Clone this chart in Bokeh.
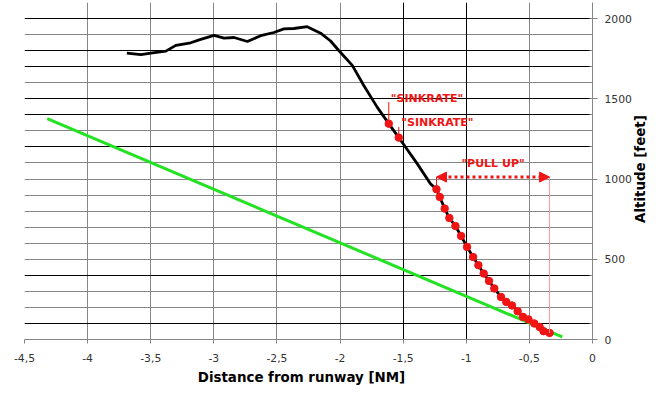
import math
from bokeh.plotting import figure
from bokeh.models import (FixedTicker, Grid, Label, Arrow, NormalHead, Range1d)
from bokeh.embed import file_html
from bokeh.resources import INLINE

# ---------------- data ----------------
dist_ticks = [-4.5, -4.0, -3.5, -3.0, -2.5, -2.0, -1.5, -1.0, -0.5, 0.0]
dist_tick_labels = ["-4,5", "-4", "-3,5", "-3", "-2,5", "-2", "-1,5", "-1", "-0,5", "0"]
alt_ticks = [0, 500, 1000, 1500, 2000]
alt_minor = [100, 200, 300, 400, 600, 700, 800, 900, 1100, 1200, 1300, 1400,
             1600, 1700, 1800, 1900]

grid_x_gray = [-4.0, -3.5, -3.0, -2.5, -2.0, -0.5]
grid_x_dark = [-1.5, -1.0]
grid_y_gray = [1900, 1600, 1300, 1100, 1000, 900, 800, 700, 600, 500, 300, 200]
grid_y_dark = [2000, 1800, 1700, 1500, 1400, 1200, 400, 100]

# flight profile before the PULL UP warnings
profile_dist = [-3.689, -3.578, -3.499, -3.380, -3.301, -3.183, -3.104, -2.998,
                -2.919, -2.840, -2.734, -2.629, -2.524, -2.445, -2.366, -2.260,
                -2.154, -2.075, -2.010, -1.903, -1.812, -1.706, -1.614, -1.535,
                -1.500, -1.389, -1.284]
profile_alt = [1785, 1775, 1785, 1797, 1833, 1849, 1870, 1895,
               1878, 1882, 1857, 1893, 1913, 1936, 1938, 1949,
               1909, 1860, 1801, 1708, 1583, 1448, 1345, 1258,
               1220, 1096, 971]

# samples with "PULL UP" warning
pullup_dist = [-1.236, -1.210, -1.171, -1.134, -1.086, -1.041, -0.994, -0.946,
               -0.904, -0.862, -0.820, -0.778, -0.725, -0.683, -0.638, -0.593,
               -0.551, -0.507, -0.461, -0.419, -0.388, -0.340]
pullup_alt = [936, 888, 816, 757, 707, 645, 577, 514,
              463, 411, 365, 318, 265, 234, 212, 176,
              141, 125, 100, 78, 52, 41]

# "SINKRATE" warnings
sink_dist = [-1.614, -1.535]
sink_alt = [1345, 1258]
sink_label = ['"SINKRATE"', '"SINKRATE"']
sink_label_alt = [1480, 1324]

pullup_label = '"PULL UP"'
pullup_band_alt = 1012

# nominal glide path
glide_dist = [-4.32, -0.24]
glide_alt = [1376, 16]

x_title = "Distance from runway [NM]"
y_title = "Altitude [feet]"

RED = "#f01414"
GREEN = "#22e222"
GRAY = "#868686"
FONT = "DejaVu Sans"
NBSP = "\u00a0"

# ---------------- figure ----------------
p = figure(width=661, height=393, output_backend="svg", toolbar_location=None,
           x_range=Range1d(-4.5, 0.0), y_range=Range1d(0, 2100),
           y_axis_location="right",
           min_border_left=24, min_border_right=69,
           min_border_top=2, min_border_bottom=54)
p.outline_line_color = None
p.background_fill_color = "white"
p.border_fill_color = "white"

# grids
p.xgrid.ticker = FixedTicker(ticks=grid_x_gray)
p.xgrid.grid_line_color = GRAY
p.ygrid.ticker = FixedTicker(ticks=grid_y_gray)
p.ygrid.grid_line_color = GRAY
p.add_layout(Grid(dimension=0, ticker=FixedTicker(ticks=grid_x_dark),
                  grid_line_color="black", grid_line_width=1))
p.add_layout(Grid(dimension=1, ticker=FixedTicker(ticks=grid_y_dark),
                  grid_line_color="black", grid_line_width=1))

# x axis
xa = p.xaxis[0]
xa.ticker = FixedTicker(ticks=dist_ticks)
xa.major_label_overrides = {t: l for t, l in zip(dist_ticks, dist_tick_labels)}
xa.axis_line_color = GRAY
xa.major_tick_line_color = GRAY
xa.major_tick_out = 4
xa.major_tick_in = 0
xa.minor_tick_line_color = None
xa.major_label_standoff = 10
xa.major_label_text_font = FONT
xa.major_label_text_font_size = "10.8px"
xa.major_label_text_color = "#333333"
xa.axis_label = x_title + NBSP * 3
xa.axis_label_text_font = FONT
xa.axis_label_text_font_size = "13.4px"
xa.axis_label_text_font_style = "bold"
xa.axis_label_text_color = "black"
xa.axis_label_standoff = 5

# y axis (right); label reads bottom-to-top and starts from the axis' start,
# so it is pushed up with non-breaking spaces to sit beside 500-1500 ft
ya = p.yaxis[0]
ya.ticker = FixedTicker(ticks=alt_ticks, minor_ticks=alt_minor)
ya.axis_line_color = GRAY
ya.major_tick_line_color = GRAY
ya.minor_tick_line_color = GRAY
ya.major_tick_out = 5
ya.major_tick_in = 3
ya.minor_tick_out = 0
ya.minor_tick_in = 3
ya.major_label_standoff = 7
ya.major_label_text_font = FONT
ya.major_label_text_font_size = "10.8px"
ya.major_label_text_color = "#333333"
ya.axis_label = NBSP * 25 + y_title
ya.axis_label_text_font = FONT
ya.axis_label_text_font_size = "13.4px"
ya.axis_label_text_font_style = "bold"
ya.axis_label_text_color = "black"
ya.axis_label_standoff = 6
ya.axis_label_orientation = math.pi / 2
ya.axis_label_align = "start"

# glide path
p.line(glide_dist, glide_alt, line_color=GREEN, line_width=3)

# flight profile
track_x = profile_dist + pullup_dist
track_y = profile_alt + pullup_alt
p.line(track_x, track_y, line_color="black", line_width=2.8)

# warning markers
p.scatter(pullup_dist, pullup_alt, size=7.5, fill_color=RED, line_color=RED)
p.scatter(sink_dist, sink_alt, size=7.5, fill_color=RED, line_color=RED)

# SINKRATE leaders and labels
p.segment(x0=sink_dist, y0=sink_label_alt, x1=sink_dist, y1=sink_alt,
          line_color=RED, line_width=1)
p.add_layout(Label(x=sink_dist[0], y=sink_label_alt[0], text=sink_label[0],
                   x_offset=2, y_offset=3,
                   text_font=FONT, text_font_size="11px", text_font_style="bold",
                   text_color=RED, text_align="left", text_baseline="middle"))
p.add_layout(Label(x=sink_dist[1], y=sink_label_alt[1], text=sink_label[1],
                   x_offset=2.5, y_offset=5,
                   text_font=FONT, text_font_size="11px", text_font_style="bold",
                   text_color=RED, text_align="left", text_baseline="middle"))

# PULL UP band
x_first, x_last = pullup_dist[0], pullup_dist[-1]
p.segment(x0=[x_first], y0=[pullup_band_alt], x1=[x_first], y1=[pullup_alt[0]],
          line_color=RED, line_width=1)
p.segment(x0=[x_last], y0=[pullup_band_alt], x1=[x_last], y1=[pullup_alt[-1]],
          line_color="#f29a9a", line_width=1)
p.add_layout(Arrow(start=NormalHead(size=10, fill_color=RED, line_color=RED),
                   end=NormalHead(size=10, fill_color=RED, line_color=RED),
                   x_start=x_first, y_start=pullup_band_alt,
                   x_end=x_last, y_end=pullup_band_alt,
                   line_color=RED, line_width=3, line_dash="3 3"))
p.add_layout(Label(x=(x_first + x_last) / 2, y=pullup_band_alt, text=pullup_label,
                   y_offset=14,
                   text_font=FONT, text_font_size="11px", text_font_style="bold",
                   text_color=RED, text_align="center", text_baseline="middle"))

open("out.html", "w").write(file_html(p, INLINE))
